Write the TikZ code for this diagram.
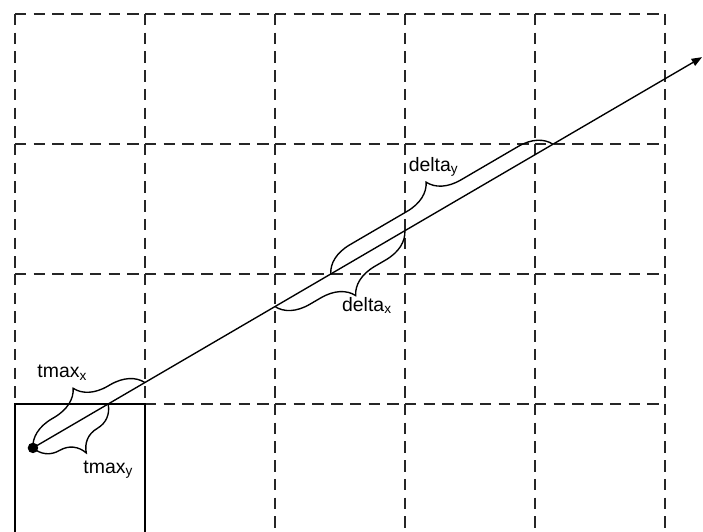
\documentclass[tikz,border=0pt]{standalone}
\usepackage{fontspec}
\setmainfont{Liberation Sans}
\usepackage{tikz}
\usetikzlibrary{arrows.meta,calc,intersections,decorations.pathreplacing}

\begin{document}
\begin{tikzpicture}[x=2cm, y=2cm,
  font=\fontsize{8.5}{10}\selectfont,
  gridline/.style={line width=1pt, dash pattern=on 5pt off 3.2pt, draw=black!85},
  cellbox/.style={line width=1pt, draw=black},
  ray/.style={line width=0.6pt, -{Triangle[length=1.6mm, width=1.2mm]}},
  curly/.style={decorate, line width=0.6pt,
                decoration={brace, amplitude=0.48cm}},
  curlyb/.style={decorate, line width=0.6pt,
                 decoration={brace, mirror, amplitude=0.48cm}},
  lbl/.style={anchor=base west, inner sep=0pt}]
\useasboundingbox (-0.1154,0.0154) rectangle (5.2923,4.1077);
\foreach \x in {0,...,5}
  \foreach \y in {0,...,3}
    \draw[gridline] (\x,\y+1) -- (\x,\y);
\foreach \x in {0,...,4}
  \foreach \y in {0,...,4}
    \draw[gridline] (\x,\y) -- (\x+1,\y);
\draw[cellbox] (0,0) rectangle (1,1);
\coordinate (origin) at (0.138,0.662);
\coordinate (tip) at (5.285,3.668);
\path[name path=ray] (origin) -- (tip);
\path[name path=col1] (1,0) -- (1,4);
\path[name path=col2] (2,0) -- (2,4);
\path[name path=col3] (3,0) -- (3,4);
\path[name path=row1] (0,1) -- (5,1);
\path[name path=row2] (0,2) -- (5,2);
\path[name path=row3] (0,3) -- (5,3);
\path[name intersections={of=ray and col1, by=hitx1}];
\path[name intersections={of=ray and col2, by=hitx2}];
\path[name intersections={of=ray and col3, by=hitx3}];
\path[name intersections={of=ray and row1, by=hity1}];
\path[name intersections={of=ray and row2, by=hity2}];
\path[name intersections={of=ray and row3, by=hity3}];
\draw[ray] (origin) -- (tip);
\fill (origin) circle (2.3pt);
\draw[curly] (origin) -- (hitx1);
\draw[curlyb] (origin) -- (hity1);
\draw[curlyb] (hitx2) -- (hitx3);
\draw[curly] (hity2) -- (hity3);
\node[lbl] (tmaxx) at (0.169,1.2) {tmax\textsubscript{x}};
\node[lbl] (tmaxy) at (0.523,0.469) {tmax\textsubscript{y}};
\node[lbl] (deltax) at (2.513,1.710) {delta\textsubscript{x}};
\node[lbl] (deltay) at (3.026,2.792) {delta\textsubscript{y}};
\end{tikzpicture}
\end{document}
